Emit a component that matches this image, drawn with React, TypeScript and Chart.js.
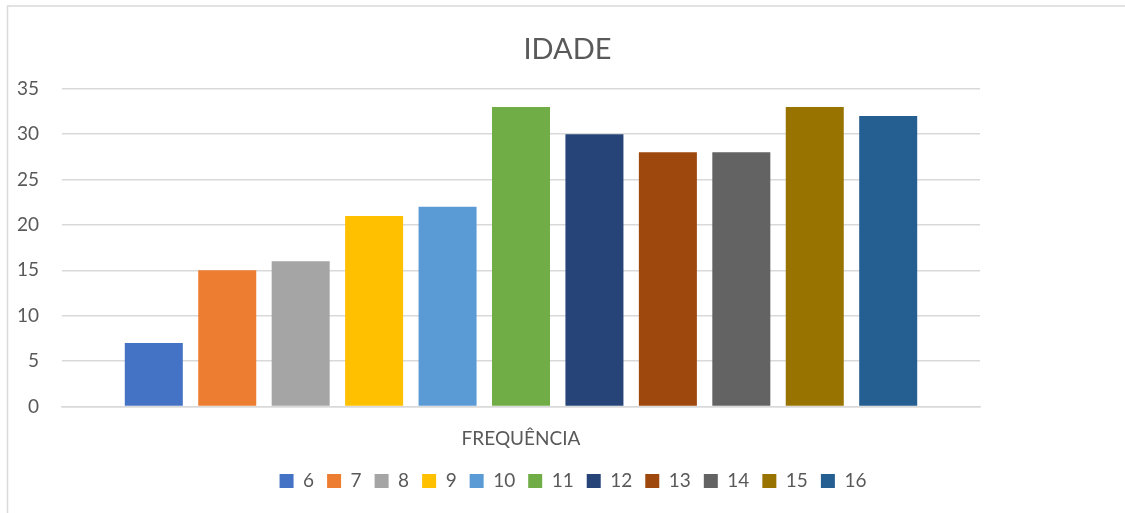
import React, { useEffect, useRef } from "react";
import { Chart, registerables } from "chart.js";

Chart.register(...registerables);

const categories = ["FREQUÊNCIA"];
const seriesNames = ["6", "7", "8", "9", "10", "11", "12", "13", "14", "15", "16"];
const seriesValues = [7, 15, 16, 21, 22, 33, 30, 28, 28, 33, 32];
const seriesColors = [
  "#4472C4", "#ED7D31", "#A5A5A5", "#FFC000", "#5B9BD5", "#70AD47",
  "#264478", "#9E480E", "#636363", "#997300", "#255E91",
];
const yTicks = [0, 5, 10, 15, 20, 25, 30, 35];
const chartTitle = "IDADE";

const FONT = "Lato, 'Open Sans', sans-serif";
const TEXT = "#595959";
const GRID = "#D9D9D9";

const frameAndShiftPlugin = {
  id: "frameAndShift",
  afterLayout(chart: any) {
    const t = chart.titleBlock;
    if (t) {
      const d = 567.5 - (t.left + t.right) / 2;
      t.left += d;
      t.right += d;
    }
    const l = chart.legend;
    if (l) {
      const d = 573 - (l.left + l.right) / 2;
      l.left += d;
      l.right += d;
    }
  },
  beforeDraw(chart: any) {
    const { ctx, width, height } = chart;
    ctx.save();
    ctx.fillStyle = "#ffffff";
    ctx.fillRect(0, 0, width, height);
    ctx.strokeStyle = GRID;
    ctx.lineWidth = 1.5;
    ctx.beginPath();
    ctx.moveTo(width, 6);
    ctx.lineTo(7.5, 6);
    ctx.lineTo(7.5, height);
    ctx.stroke();
    ctx.restore();
  },
};

export default function App() {
  const ref = useRef<HTMLCanvasElement | null>(null);
  useEffect(() => {
    document.body.style.margin = "0";
    const canvas = ref.current!;
    const chart = new Chart(canvas, {
      type: "bar",
      data: {
        labels: categories,
        datasets: seriesNames.map((name, i) => ({
          label: name,
          data: [seriesValues[i]],
          backgroundColor: seriesColors[i],
          borderWidth: 0,
          categoryPercentage: 0.88,
          barPercentage: 0.79,
        })),
      },
      options: {
        animation: false,
        responsive: false,
        maintainAspectRatio: false,
        layout: { padding: { left: 0, right: 145, top: 0, bottom: 12.5 } },
        plugins: {
          title: {
            display: true,
            text: chartTitle,
            color: TEXT,
            font: { family: FONT, size: 29, weight: "normal" },
            padding: { top: 32, bottom: 22 },
          },
          legend: {
            position: "bottom",
            labels: {
              color: TEXT,
              font: { family: FONT, size: 19 },
              boxWidth: 14,
              boxHeight: 14,
              padding: 13,
            },
          },
          tooltip: { enabled: false },
        },
        scales: {
          x: {
            grid: { display: false, drawTicks: false },
            border: { display: true, color: GRID, width: 1.5 },
            ticks: { color: TEXT, font: { family: FONT, size: 19 }, padding: 21 },
            afterFit(scale: any) {
              scale.height = 52;
            },
          },
          y: {
            min: 0,
            max: 35,
            afterBuildTicks(scale: any) {
              scale.ticks = yTicks.map((v) => ({ value: v }));
            },
            grid: { color: GRID, lineWidth: 1.5, drawTicks: false },
            border: { display: false },
            ticks: { color: TEXT, font: { family: FONT, size: 19 }, padding: 23 },
            afterFit(scale: any) {
              scale.width = 62;
            },
          },
        },
      },
      plugins: [frameAndShiftPlugin],
    });
    return () => chart.destroy();
  }, []);
  return (
    <div style={{ width: 1125, height: 513 }}>
      <canvas ref={ref} width={1125} height={513} style={{ display: "block" }} />
    </div>
  );
}
